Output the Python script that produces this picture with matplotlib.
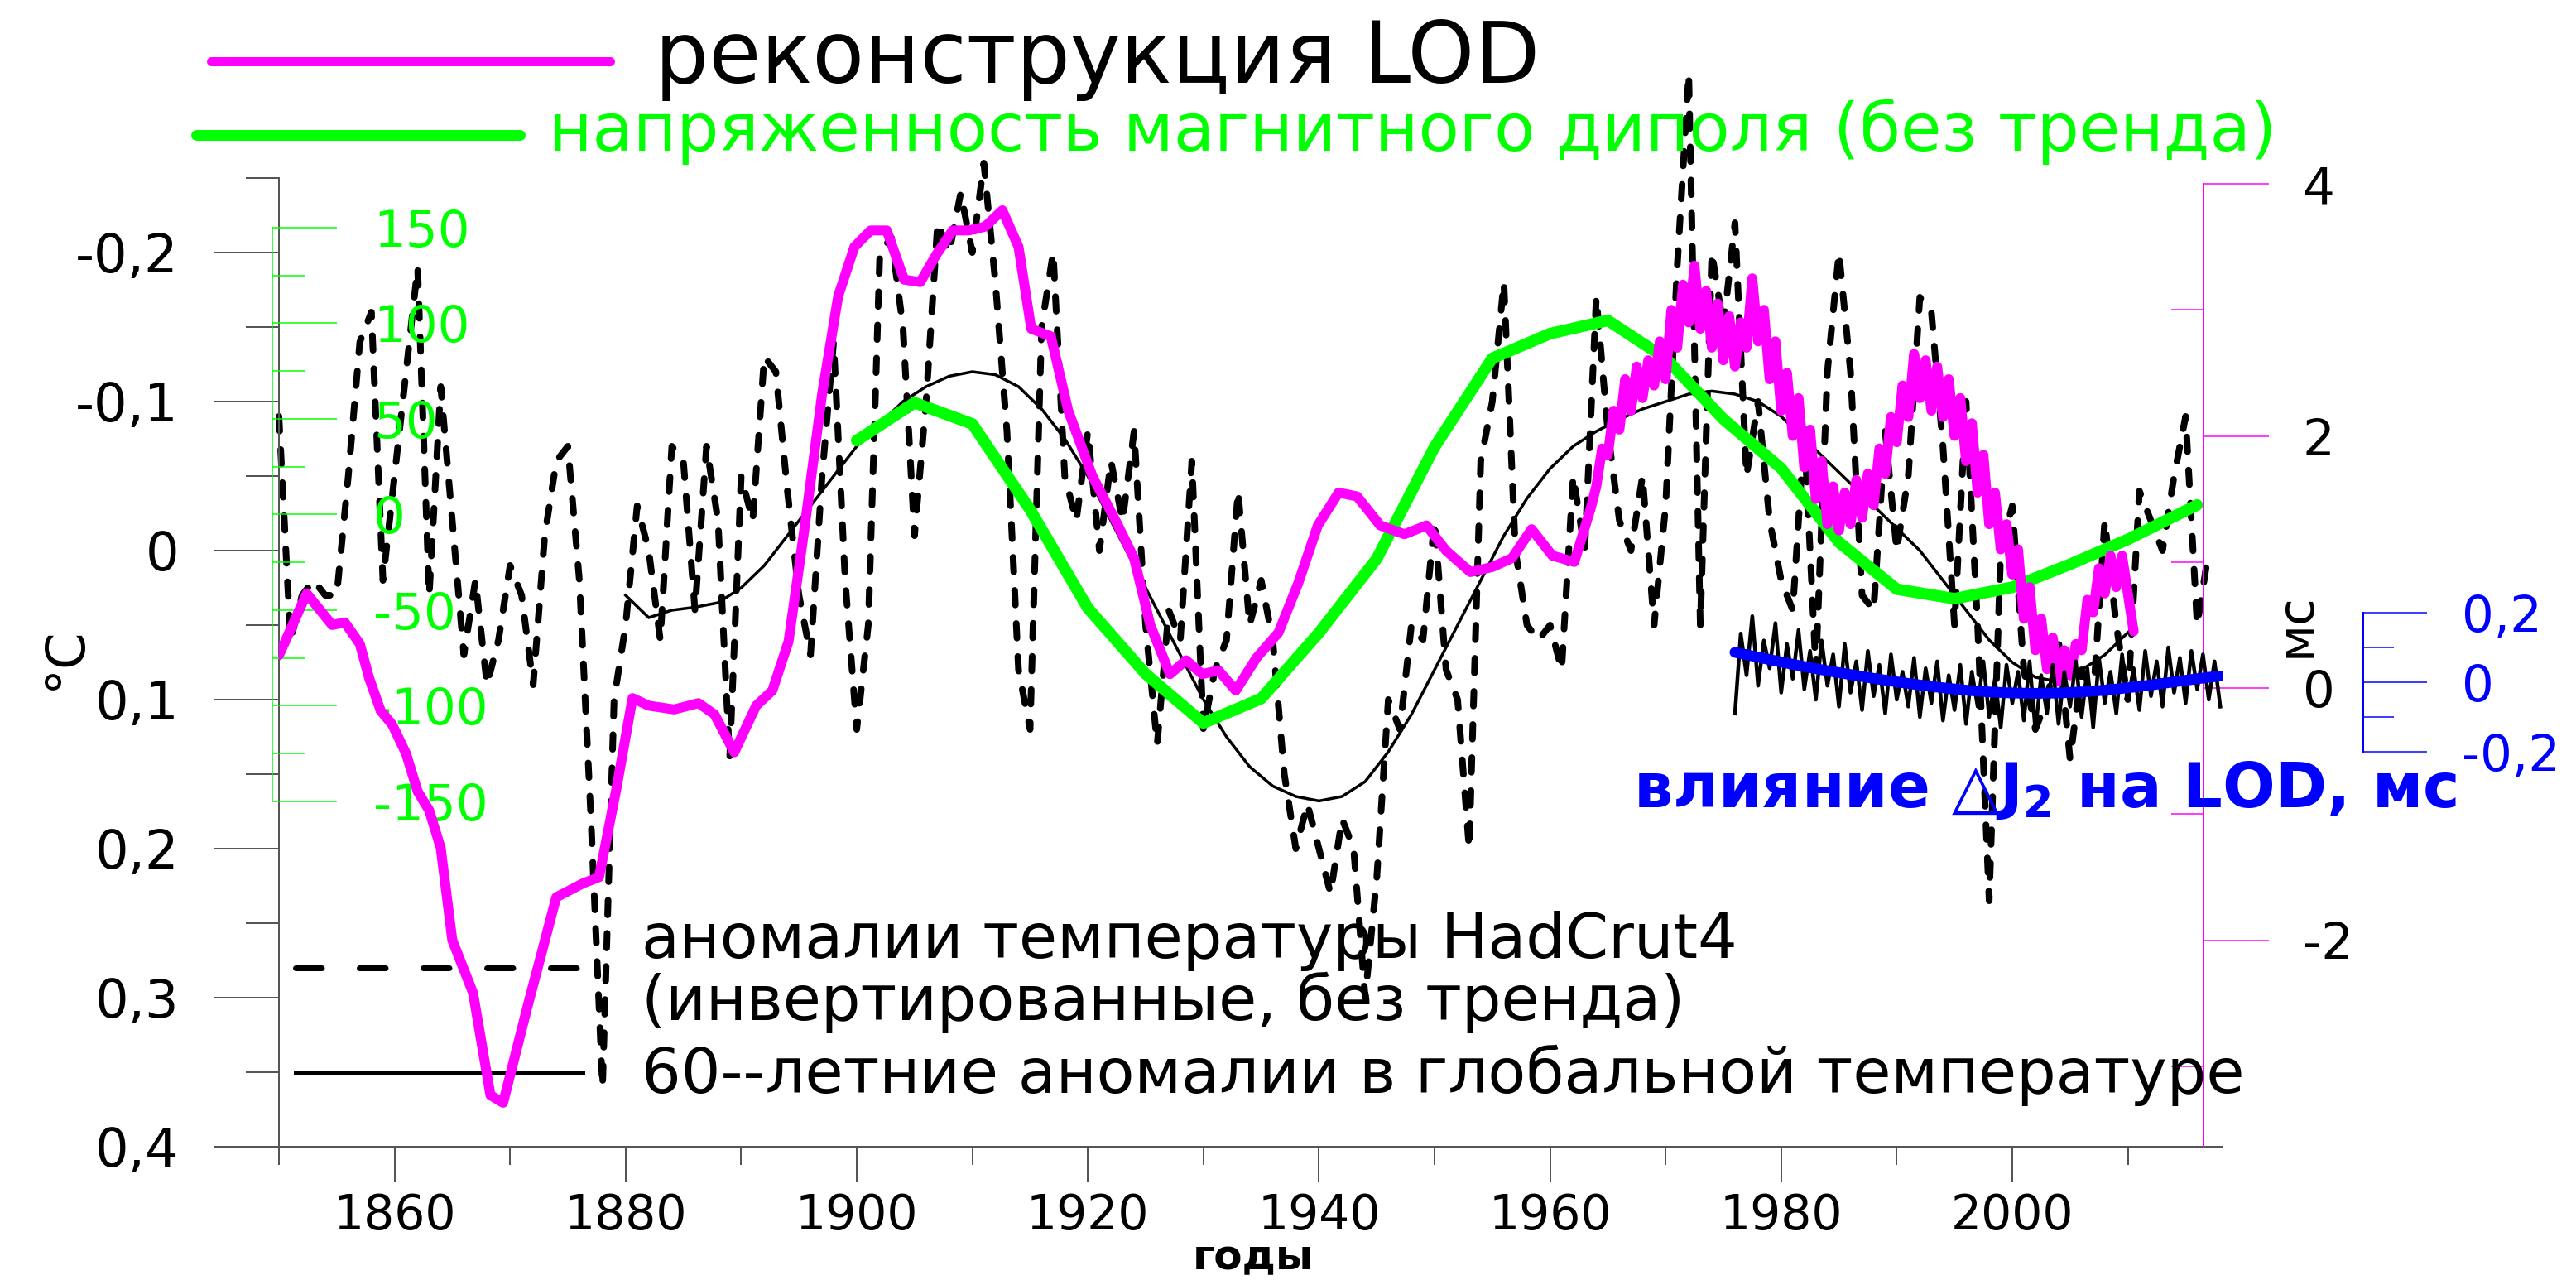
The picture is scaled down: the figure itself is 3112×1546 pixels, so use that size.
import numpy as np
import matplotlib
matplotlib.use('Agg')
from matplotlib import pyplot as plt
from matplotlib.lines import Line2D
from matplotlib.ticker import FixedLocator

plt.rcParams['font.family'] = ['DejaVu Sans']
plt.rcParams['mathtext.default'] = 'bf'

# ---- data ----
had_years = list(range(1850, 2018))
had_inv = [-0.09, 0.06, 0.03, 0.02, 0.03, 0.03, -0.05, -0.14, -0.16, 0.02,
           -0.05, -0.12, -0.19, 0.03, -0.11, -0.02, 0.07, 0.02, 0.09, 0.06,
           0.01, 0.03, 0.09, -0.01, -0.06, -0.07, 0.02, 0.18, 0.36, 0.10,
           0.05, -0.03, 0.00, 0.06, -0.07, -0.06, 0.04, -0.07, -0.02, 0.14,
           -0.05, -0.02, -0.13, -0.12, -0.04, 0.03, 0.07, -0.05, -0.14, 0.02,
           0.12, 0.05, -0.20, -0.21, -0.15, -0.01, -0.10, -0.22, -0.20, -0.24,
           -0.20, -0.26, -0.18, -0.08, 0.08, 0.12, -0.15, -0.20, -0.05, -0.02,
           -0.08, 0.00, -0.06, -0.02, -0.08, 0.05, 0.13, 0.04, 0.06, -0.06,
           0.12, 0.08, 0.06, -0.04, 0.05, 0.02, 0.06, 0.15, 0.20, 0.17,
           0.20, 0.23, 0.18, 0.20, 0.30, 0.22, 0.10, 0.12, 0.05, 0.06,
           -0.02, 0.08, 0.10, 0.20, -0.06, -0.10, -0.18, 0.00, 0.05, 0.06,
           0.05, 0.08, -0.05, 0.00, -0.17, -0.08, -0.02, 0.00, -0.05, 0.05,
           -0.03, -0.19, -0.32, 0.05, -0.20, -0.15, -0.22, -0.05, -0.10, -0.02,
           0.02, 0.04, -0.08, 0.08, -0.12, -0.20, -0.12, 0.03, 0.04, -0.08,
           0.00, -0.05, -0.17, -0.16, -0.07, 0.05, -0.10, 0.05, 0.235, 0.00,
           -0.03, 0.08, 0.12, 0.10, 0.06, 0.14, 0.08, 0.10, -0.02, 0.05,
           0.10, -0.04, -0.02, 0.00, -0.05, -0.09, 0.05, 0.00]

cyc_years = [1880, 1882, 1884, 1886, 1888, 1890, 1892, 1894, 1896, 1898,
             1900, 1902, 1904, 1906, 1908, 1910, 1912, 1914, 1916, 1918,
             1920, 1922, 1924, 1926, 1928, 1930, 1932, 1934, 1936, 1938,
             1940, 1942, 1944, 1946, 1948, 1950, 1952, 1954, 1956, 1958,
             1960, 1962, 1964, 1966, 1968, 1970, 1972, 1974, 1976, 1978,
             1980, 1982, 1984, 1986, 1988, 1990, 1992, 1994, 1996, 1998,
             2000, 2002, 2004, 2006, 2008, 2010]
cyc_60 = [0.03, 0.045, 0.04, 0.038, 0.035, 0.025, 0.01, -0.01, -0.03, -0.05,
          -0.07, -0.085, -0.10, -0.11, -0.117, -0.12, -0.118, -0.11, -0.095, -0.075,
          -0.05, -0.02, 0.01, 0.04, 0.07, 0.10, 0.125, 0.145, 0.158, 0.165,
          0.168, 0.165, 0.155, 0.135, 0.11, 0.08, 0.05, 0.02, -0.01, -0.035,
          -0.055, -0.07, -0.08, -0.088, -0.095, -0.10, -0.105, -0.107, -0.105, -0.10,
          -0.09, -0.075, -0.06, -0.045, -0.03, -0.015, 0.0, 0.02, 0.04, 0.06,
          0.075, 0.085, 0.088, 0.08, 0.07, 0.055]

lod_years = [1850.0, 1852.4, 1854.6, 1855.7, 1857.0, 1857.8, 1858.8, 1859.8, 1861.0, 1862.0,
             1863.0, 1864.0, 1865.0, 1866.8, 1868.3, 1869.4, 1871.5, 1874.0, 1876.3, 1877.7,
             1879.2, 1880.6, 1882.0, 1884.2, 1886.3, 1887.7, 1889.4, 1891.3, 1892.7, 1894.1,
             1895.5, 1897.0, 1898.4, 1899.8, 1901.2, 1902.6, 1904.1, 1905.5, 1906.9, 1908.3,
             1909.7, 1911.1, 1912.6, 1914.0, 1915.1, 1916.8, 1918.3, 1920.4, 1922.5, 1924.0,
             1925.4, 1927.1, 1928.5, 1929.9, 1931.3, 1932.8, 1934.6, 1936.5, 1938.2, 1939.9,
             1941.7, 1943.3, 1945.3, 1947.4, 1949.3, 1951.0, 1953.1, 1955.0, 1956.7, 1958.4,
             1960.2, 1962.1, 1963.5,
             1964.0, 1964.5, 1965.0, 1965.5, 1966.0, 1966.5, 1967.0, 1967.5, 1968.0, 1968.5,
             1969.0, 1969.5, 1970.0, 1970.5, 1971.0, 1971.5, 1972.0, 1972.5, 1973.0, 1973.5,
             1974.0, 1974.5, 1975.0, 1975.5, 1976.0, 1976.5, 1977.0, 1977.5, 1978.0, 1978.5,
             1979.0, 1979.5, 1980.0, 1980.5, 1981.0, 1981.5, 1982.0, 1982.5, 1983.0, 1983.5,
             1984.0, 1984.5, 1985.0, 1985.5, 1986.0, 1986.5, 1987.0, 1987.5, 1988.0, 1988.5,
             1989.0, 1989.5, 1990.0, 1990.5, 1991.0, 1991.5, 1992.0, 1992.5, 1993.0, 1993.5,
             1994.0, 1994.5, 1995.0, 1995.5, 1996.0, 1996.5, 1997.0, 1997.5, 1998.0, 1998.5,
             1999.0, 1999.5, 2000.0, 2000.5, 2001.0, 2001.5, 2002.0, 2002.5, 2003.0, 2003.5,
             2004.0, 2004.5, 2005.0, 2005.5, 2006.0, 2006.5, 2007.0, 2007.5, 2008.0, 2008.5,
             2009.0, 2009.5, 2010.0, 2010.5]
lod_ms = [0.26, 0.75, 0.50, 0.52, 0.35, 0.08, -0.18, -0.29, -0.52, -0.82,
          -0.97, -1.27, -2.0, -2.42, -3.23, -3.29, -2.53, -1.66, -1.55, -1.50,
          -0.80, -0.08, -0.14, -0.17, -0.12, -0.21, -0.51, -0.14, -0.02, 0.37,
          1.28, 2.33, 3.11, 3.50, 3.63, 3.63, 3.24, 3.22, 3.44, 3.63,
          3.63, 3.66, 3.79, 3.50, 2.85, 2.79, 2.20, 1.68, 1.31, 1.03,
          0.50, 0.11, 0.22, 0.11, 0.14, -0.02, 0.24, 0.44, 0.83, 1.29,
          1.55, 1.52, 1.29, 1.22, 1.29, 1.09, 0.92, 0.96, 1.03, 1.26,
          1.05, 1.00, 1.42,
          1.60, 1.90, 1.85, 2.20, 2.05, 2.45, 2.20, 2.55, 2.30, 2.60,
          2.40, 2.75, 2.45, 3.00, 2.70, 3.20, 2.90, 3.35, 2.85, 3.15,
          2.70, 3.05, 2.60, 2.95, 2.55, 2.90, 2.70, 3.25, 2.75, 3.00,
          2.45, 2.75, 2.20, 2.50, 2.00, 2.30, 1.75, 2.05, 1.50, 1.80,
          1.30, 1.60, 1.25, 1.55, 1.30, 1.65, 1.35, 1.70, 1.45, 1.90,
          1.70, 2.15, 1.95, 2.40, 2.15, 2.65, 2.30, 2.60, 2.20, 2.55,
          2.15, 2.45, 2.00, 2.30, 1.80, 2.10, 1.55, 1.85, 1.30, 1.55,
          1.10, 1.30, 0.90, 1.10, 0.55, 0.80, 0.30, 0.55, 0.15, 0.40,
          0.05, 0.30, 0.10, 0.35, 0.30, 0.70, 0.60, 0.95, 0.75, 1.05,
          0.80, 1.05, 0.75, 0.45]

dip_years = [1900, 1905, 1910, 1915, 1920, 1925, 1930, 1935, 1940, 1945, 1950, 1955,
             1960, 1965, 1970, 1975, 1980, 1985, 1990, 1995, 2000, 2005, 2010, 2016]
dip_detr = [38.7, 58.5, 47.4, 2.6, -48.9, -83.3, -109.0, -96.2, -61.8, -23.1, 35.3, 81.7,
            94.6, 101.5, 81.7, 49.9, 24.2, -14.5, -39.0, -44.0, -38.0, -26.0, -13.0, 5.0]

j2_years = [1976.0 + 0.5 * i for i in range(85)]
j2_raw = [-0.09, 0.14, 0.02, 0.19, -0.01, 0.12, 0.04, 0.17, -0.03, 0.11,
          0.01, 0.15, -0.02, 0.09, -0.05, 0.12, -0.01, 0.08, -0.07, 0.11,
          -0.03, 0.06, -0.08, 0.09, -0.04, 0.05, -0.09, 0.08, -0.05, 0.03,
          -0.07, 0.07, -0.10, 0.04, -0.06, 0.06, -0.11, 0.02, -0.08, 0.05,
          -0.12, 0.03, -0.07, 0.06, -0.10, 0.01, -0.13, 0.05, -0.06, 0.03,
          -0.11, 0.06, -0.14, 0.02, -0.09, 0.05, -0.12, 0.03, -0.07, 0.06,
          -0.10, 0.04, -0.13, 0.07, -0.06, 0.03, -0.09, 0.08, -0.05, 0.04,
          -0.08, 0.09, -0.04, 0.06, -0.07, 0.10, -0.03, 0.07, -0.06, 0.09,
          -0.02, 0.08, -0.05, 0.06, -0.07]
j2_fit_years = [1976, 1978, 1980, 1982, 1984, 1986, 1988, 1990, 1992, 1994, 1996,
                1998, 2000, 2002, 2004, 2006, 2008, 2010, 2012, 2014, 2016, 2018]
j2_fit = [0.086, 0.072, 0.058, 0.045, 0.033, 0.022, 0.011, 0.001, -0.008, -0.016, -0.023,
          -0.028, -0.031, -0.032, -0.031, -0.028, -0.023, -0.016, -0.008, 0.001, 0.010, 0.018]

temp_ticks = [-0.2, -0.1, 0.0, 0.1, 0.2, 0.3, 0.4]
temp_labels = ['-0,2', '-0,1', '0', '0,1', '0,2', '0,3', '0,4']
year_ticks = [1860, 1880, 1900, 1920, 1940, 1960, 1980, 2000]
dip_ticks = [-150, -100, -50, 0, 50, 100, 150]
lod_ticks = [-2, 0, 2, 4]
j2_ticks = [-0.2, 0.0, 0.2]
j2_labels = ['-0,2', '0', '0,2']

MAGENTA = '#ff00ff'
GREEN = '#00ff00'
BLUE = '#0000ff'
GREY = '#555555'

W, H, DPI = 3112, 1546, 100
fig = plt.figure(figsize=(W / DPI, H / DPI), dpi=DPI)


def fx(px):
    return px / W


def fy(py):
    return 1 - py / H


def pt(px):
    return px * 72 / DPI


X0, X1, YT, YB = 337, 2685, 215, 1385
rect = [fx(X0), fy(YB), fx(X1) - fx(X0), fy(YT) - fy(YB)]
xlim = (1850, 1850 + (X1 - X0) / 13.96)


def overlay(z):
    a = fig.add_axes(rect, zorder=z)
    a.patch.set_visible(False)
    a.set_xlim(xlim)
    a.xaxis.set_visible(False)
    for s in ('top', 'bottom', 'left'):
        a.spines[s].set_visible(False)
    a.yaxis.tick_right()
    return a


def ylim_from_px(zero_px, px_per_unit):
    return ((zero_px - YB) / px_per_unit, (zero_px - YT) / px_per_unit)


# temperature axes
ax = fig.add_axes(rect, zorder=1)
ax.patch.set_visible(False)
ax.set_xlim(xlim)
ax.set_ylim(0.4, -0.25)
ax.spines['top'].set_visible(False)
ax.spines['right'].set_visible(False)
for s in ('left', 'bottom'):
    ax.spines[s].set_color(GREY)
    ax.spines[s].set_linewidth(pt(2))
ax.yaxis.set_major_locator(FixedLocator(temp_ticks))
ax.yaxis.set_minor_locator(FixedLocator([-0.25, -0.15, -0.05, 0.05, 0.15, 0.25, 0.35]))
ax.set_yticklabels(temp_labels)
ax.xaxis.set_major_locator(FixedLocator(year_ticks))
ax.xaxis.set_minor_locator(FixedLocator(list(range(1850, 2011, 20))))
ax.set_xticklabels([str(y) for y in year_ticks])
ax.tick_params(axis='y', which='major', length=pt(79), width=pt(2), color=GREY,
               pad=pt(42), labelsize=46)
ax.tick_params(axis='y', which='minor', length=pt(40), width=pt(2), color=GREY)
ax.tick_params(axis='x', which='major', length=pt(43), width=pt(2), color=GREY,
               pad=pt(12), labelsize=42)
ax.tick_params(axis='x', which='minor', length=pt(22), width=pt(2), color=GREY)

ax.plot(had_years, had_inv, color='black', lw=pt(8), linestyle=(0, (2.2, 2.8)),
        dash_capstyle='round', clip_on=False)
ax.plot(cyc_years, cyc_60, color='black', lw=pt(3.5))

# magnetic dipole axes (green)
axg = overlay(2)
axg.set_ylim(*ylim_from_px(621.5, 2.31))
axg.spines['right'].set_position(('axes', (329 - X0) / (X1 - X0)))
axg.spines['right'].set_bounds(-150, 150)
axg.spines['right'].set_color(GREEN)
axg.spines['right'].set_linewidth(pt(1.5))
axg.yaxis.set_major_locator(FixedLocator(dip_ticks))
axg.yaxis.set_minor_locator(FixedLocator([-125, -75, -25, 25, 75, 125]))
axg.set_yticklabels([str(v) for v in dip_ticks])
axg.tick_params(axis='y', which='major', length=pt(78), width=pt(1.5), color=GREEN,
                pad=pt(44), labelsize=44, labelcolor=GREEN)
axg.tick_params(axis='y', which='minor', length=pt(40), width=pt(1.5), color=GREEN)
axg.plot(dip_years, dip_detr, color=GREEN, lw=pt(14), solid_capstyle='round')

# LOD axes (magenta)
axl = overlay(3)
lod_lim = ylim_from_px(831, 152.25)
axl.set_ylim(*lod_lim)
axl.spines['right'].set_position(('axes', (2662 - X0) / (X1 - X0)))
axl.spines['right'].set_bounds(lod_lim[0], 4)
axl.spines['right'].set_color(MAGENTA)
axl.spines['right'].set_linewidth(pt(2))
axl.yaxis.set_major_locator(FixedLocator(lod_ticks))
axl.yaxis.set_minor_locator(FixedLocator([-3, -1, 1, 3]))
axl.set_yticklabels([str(v) for v in lod_ticks])
axl.tick_params(axis='y', which='major', length=pt(79), width=pt(1.5), color=MAGENTA,
                pad=pt(41), labelsize=44, labelcolor='black')
axl.tick_params(axis='y', which='minor', direction='in', length=pt(39), width=pt(1.5),
                color=MAGENTA)
axl.plot(lod_years, lod_ms, color=MAGENTA, lw=pt(12), solid_joinstyle='round',
         solid_capstyle='round')

# J2 axes (blue)
axj = overlay(4)
axj.set_ylim(*ylim_from_px(824, 420))
axj.spines['right'].set_position(('axes', (2855 - X0) / (X1 - X0)))
axj.spines['right'].set_bounds(-0.2, 0.2)
axj.spines['right'].set_color(BLUE)
axj.spines['right'].set_linewidth(pt(2))
axj.yaxis.set_major_locator(FixedLocator(j2_ticks))
axj.yaxis.set_minor_locator(FixedLocator([-0.1, 0.1]))
axj.set_yticklabels(j2_labels)
axj.tick_params(axis='y', which='major', length=pt(77), width=pt(1.5), color=BLUE,
                pad=pt(42), labelsize=44, labelcolor=BLUE)
axj.tick_params(axis='y', which='minor', length=pt(37), width=pt(1.5), color=BLUE)
axj.plot(j2_years, j2_raw, color='black', lw=pt(4.5))
axj.plot(j2_fit_years, j2_fit, color=BLUE, lw=pt(13), solid_capstyle='round')

# legends and labels
fig.add_artist(Line2D([fx(255), fx(737)], [fy(74), fy(74)], color=MAGENTA, lw=pt(11),
                      solid_capstyle='round'))
fig.text(fx(791), fy(100), 'реконструкция LOD', fontsize=74, color='black', va='baseline')
fig.add_artist(Line2D([fx(237), fx(628)], [fy(163), fy(163)], color=GREEN, lw=pt(13),
                      solid_capstyle='round'))
fig.text(fx(663), fy(182), 'напряженность магнитного диполя (без тренда)', fontsize=58,
         color=GREEN, va='baseline')

fig.add_artist(Line2D([fx(357), fx(704)], [fy(1169), fy(1169)], color='black', lw=pt(7),
                      linestyle=(0, (4.5, 6.5)), dash_capstyle='round'))
fig.add_artist(Line2D([fx(357), fx(704)], [fy(1296), fy(1296)], color='black', lw=pt(5)))
fig.text(fx(775), fy(1157), 'аномалии температуры HadCrut4', fontsize=54, va='baseline')
fig.text(fx(775), fy(1232), '(инвертированные, без тренда)', fontsize=54, va='baseline')
fig.text(fx(775), fy(1320), '60--летние аномалии в глобальной температуре', fontsize=54,
         va='baseline')

fig.text(fx(1973), fy(975), 'влияние △J$_2$ на LOD, мс', fontsize=54, color=BLUE,
         fontweight='bold', va='baseline')
fig.text(fx(79), fy(795), '°C', fontsize=46, rotation=90, ha='center', va='center')
fig.text(fx(2774), fy(755), 'мс', fontsize=43, rotation=90, ha='center', va='center')
fig.text(fx(1514), fy(1533), 'годы', fontsize=36, fontweight='bold', ha='center',
         va='baseline')

fig.savefig('out.png', dpi=DPI)
